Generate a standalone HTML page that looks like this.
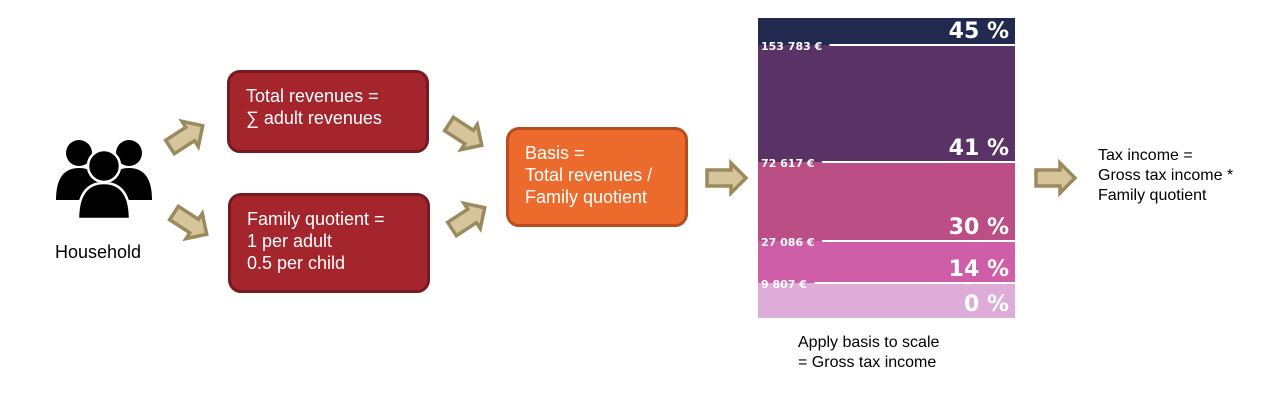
<!DOCTYPE html>
<html><head><meta charset="utf-8"><style>
body{margin:0;width:1285px;height:403px;background:#fff;position:relative;overflow:hidden;font-family:"Liberation Sans",Arial,sans-serif}
.box{position:absolute;box-sizing:border-box;border:3px solid #761a21;background:#a4252c;border-radius:13px;color:#fff;font-size:18px;line-height:22px;padding:12px 0 0 16px}
.t{position:absolute;font-size:16px;line-height:20px;color:#000}
</style></head><body>
<svg width="1285" height="403" style="position:absolute;left:0;top:0">
  <defs>
    <path id="arr" d="M0,-8 L24,-8 L24,-15 L39,0 L24,15 L24,8 L0,8 Z" fill="#d6c49b" stroke="#9b8a5e" stroke-width="3.5" stroke-linejoin="miter"/>
  </defs>
  <g>
    <circle cx="79" cy="153" r="13" fill="#000"/>
    <circle cx="129" cy="153" r="13" fill="#000"/>
    <path d="M56,200 Q56,168 79,168 Q102,168 102,200 Z" fill="#000"/>
    <path d="M106,200 Q106,168 129,168 Q152,168 152,200 Z" fill="#000"/>
    <circle cx="104" cy="166" r="16" fill="#000" stroke="#fff" stroke-width="2.5"/>
    <path d="M78,219 Q78,183 104,183 Q130,183 130,219 Z" fill="#000" stroke="#fff" stroke-width="2.5"/>
  </g>
  <use href="#arr" transform="translate(170,147) rotate(-33)"/>
  <use href="#arr" transform="translate(174,213) rotate(33)"/>
  <use href="#arr" transform="translate(449,124) rotate(33)"/>
  <use href="#arr" transform="translate(452,229) rotate(-33)"/>
  <use href="#arr" transform="translate(707,178)"/>
  <use href="#arr" transform="translate(1036,178)"/>
  <g id="scale"></g>
</svg>
<div class="t" style="left:55px;top:242px;font-size:18px">Household</div>
<div class="box" style="left:227px;top:70px;width:202px;height:83px">Total revenues =<br>∑ adult revenues</div>
<div class="box" style="left:228px;top:193px;width:202px;height:100px">Family quotient =<br>1 per adult<br>0.5 per child</div>
<div class="box" style="left:506px;top:127px;width:182px;height:100px;background:#ec6b2c;border-color:#b54d1f">Basis =<br>Total revenues /<br>Family quotient</div>
<div class="t" style="left:798px;top:333px">Apply basis to scale<br>= Gross tax income</div>
<div class="t" style="left:1098px;top:146px">Tax income =<br>Gross tax income *<br>Family quotient</div>
<script>
const rates=["45 %","41 %","30 %","14 %","0 %"];
const thresholds=["","153 783 €","72 617 €","27 086 €","9 807 €"];
const bandSpan=[27,117,79,42,35];
const colors=["#212a4e","#5a3366","#bb4f85","#cf5ea8","#ddacd8"];
const ns="http://www.w3.org/2000/svg";
const g=document.getElementById('scale');
let y=18;
rates.forEach((r,i)=>{
  const h=bandSpan[i];
  const rc=document.createElementNS(ns,'rect');
  rc.setAttribute('x',758);rc.setAttribute('y',y);rc.setAttribute('width',257);rc.setAttribute('height',h);rc.setAttribute('fill',colors[i]);
  
  
  g.appendChild(rc);
  const t=document.createElementNS(ns,'text');
  t.setAttribute('x',1009);t.setAttribute('y',y+h-7);t.setAttribute('text-anchor','end');
  t.setAttribute('font-size',22);t.setAttribute('font-weight','bold');t.setAttribute('fill','#fff');
  t.setAttribute('font-family','"DejaVu Sans",sans-serif');
  t.textContent=r;
  
  
  g.appendChild(t);
  if(thresholds[i]){
    const l=document.createElementNS(ns,'line');
    l.setAttribute('x1',762+thresholds[i].length*7.5);l.setAttribute('x2',1015);l.setAttribute('y1',y);l.setAttribute('y2',y);
    l.setAttribute('stroke','#fff');l.setAttribute('stroke-width',2);
    
    
    g.appendChild(l);
    const tl=document.createElementNS(ns,'text');
    tl.setAttribute('x',761);tl.setAttribute('y',y+5);tl.setAttribute('font-size',11);tl.setAttribute('font-weight','bold');
    tl.setAttribute('fill','#fff');tl.setAttribute('font-family','"DejaVu Sans",sans-serif');
    tl.textContent=thresholds[i];
    
    
    g.appendChild(tl);
  }
  y+=h;
});
</script>
</body></html>
